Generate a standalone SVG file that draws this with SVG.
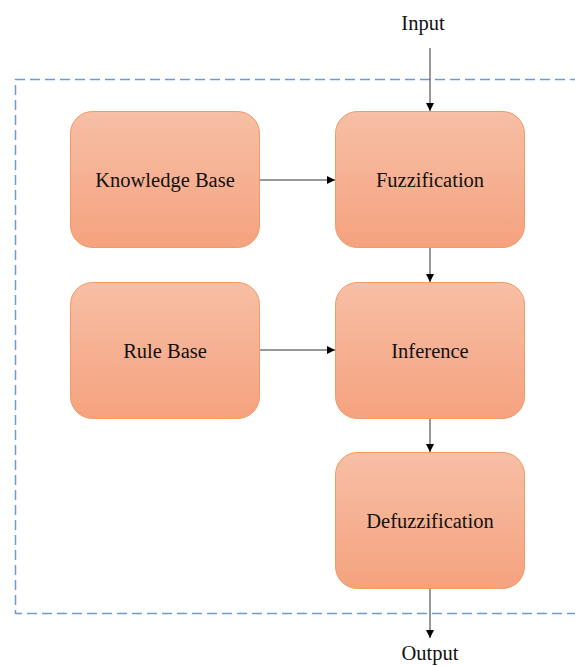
<svg xmlns="http://www.w3.org/2000/svg" width="575" height="666" viewBox="0 0 575 666">
<defs>
<linearGradient id="g" x1="0" y1="0" x2="0" y2="1">
<stop offset="0" stop-color="#f7bfa6"/>
<stop offset="1" stop-color="#f5a27e"/>
</linearGradient>
<marker id="arr" viewBox="0 0 10 10" refX="10" refY="5" markerWidth="8" markerHeight="8" markerUnits="userSpaceOnUse" orient="auto">
<path d="M0,0 L10,5 L0,10 z" fill="#000"/>
</marker>
<style>
.box{fill:url(#g);stroke:#f19a62;stroke-width:1}
.t{font-family:"Liberation Serif","Times New Roman",serif;font-size:20.5px;fill:#111;text-anchor:middle}
.c{stroke:#333;stroke-width:1;fill:none;marker-end:url(#arr)}
</style>
</defs>
<rect width="575" height="666" fill="#fff"/>
<path d="M580,79.5 H15.5 V613.5 H580" fill="none" stroke="#6a9bd1" stroke-width="1.5" stroke-dasharray="10,5"/>
<g id="knowledge">
<rect class="box" x="70.5" y="111.5" width="189" height="136" rx="22"/>
<text class="t" x="165" y="187">Knowledge Base</text>
</g>
<g id="fuzzification">
<rect class="box" x="335.5" y="111.5" width="189" height="136" rx="22"/>
<text class="t" x="430" y="187">Fuzzification</text>
</g>
<g id="rulebase">
<rect class="box" x="70.5" y="282.5" width="189" height="136" rx="22"/>
<text class="t" x="165" y="358">Rule Base</text>
</g>
<g id="inference">
<rect class="box" x="335.5" y="282.5" width="189" height="136" rx="22"/>
<text class="t" x="430" y="358">Inference</text>
</g>
<g id="defuzzification">
<rect class="box" x="335.5" y="452.5" width="189" height="136" rx="22"/>
<text class="t" x="430" y="528">Defuzzification</text>
</g>
<g id="input"><text class="t" x="423" y="30">Input</text></g>
<g id="output"><text class="t" x="430" y="660">Output</text></g>
<g id="connectors">
<line class="c" x1="430" y1="48" x2="430" y2="111"/>
<line class="c" x1="260" y1="180" x2="335" y2="180"/>
<line class="c" x1="430" y1="248" x2="430" y2="282"/>
<line class="c" x1="260" y1="350" x2="335" y2="350"/>
<line class="c" x1="430" y1="419" x2="430" y2="452"/>
<line class="c" x1="430" y1="589" x2="430" y2="638"/>
</g>
</svg>
